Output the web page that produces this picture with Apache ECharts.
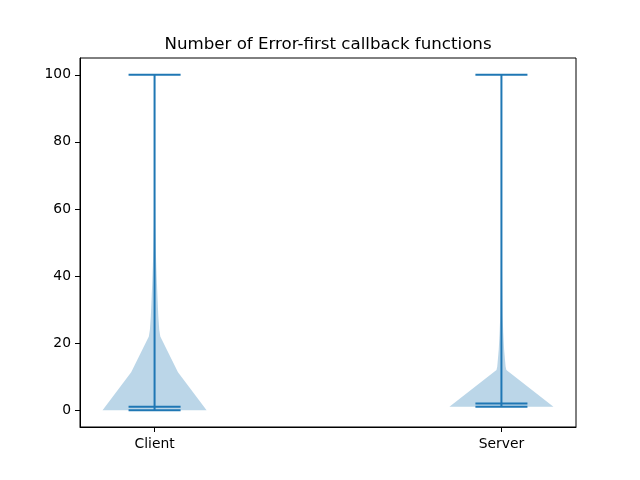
<!DOCTYPE html>
<html><head><meta charset="utf-8">
<script src="https://cdn.jsdelivr.net/npm/echarts@6/dist/echarts.min.js"></script>
<style>html,body{margin:0;padding:0;background:#fff}#c{width:640px;height:480px}</style>
</head><body><div id="c"></div>
<script>
const titleText = 'Number of Error-first callback functions';
const categories = ['Client', 'Server'];
const positions = [1, 2];
const mins = [0, 1];
const medians = [1, 2];
const maxes = [100, 100];
// KDE outline: values (y) and relative density (0..1)
const clientProfileY = [0, 11.3, 22, 24, 28, 33, 38, 43, 48, 55, 65, 80, 100];
const clientProfileD = [1, 0.45, 0.11, 0.09, 0.072, 0.058, 0.045, 0.033, 0.023, 0.014, 0.008, 0.004, 0.002];
const serverProfileY = [1, 12, 13, 18, 23, 28, 33, 40, 50, 65, 80, 100];
const serverProfileD = [1, 0.095, 0.08, 0.052, 0.035, 0.023, 0.018, 0.012, 0.007, 0.004, 0.003, 0.002];
const yTicks = [0, 20, 40, 60, 80, 100];

const profilesY = [clientProfileY, serverProfileY];
const profilesD = [clientProfileD, serverProfileD];
const HALF_W = 0.15, BAR_HALF = 0.075;
const C0 = '#1f77b4';

function renderItem(params, api) {
  const i = api.value(2);
  const p = positions[i];
  const ys = profilesY[i], ds = profilesD[i];
  const pts = [];
  for (let k = 0; k < ys.length; k++) pts.push(api.coord([p - ds[k] * HALF_W, ys[k]]));
  for (let k = ys.length - 1; k >= 0; k--) pts.push(api.coord([p + ds[k] * HALF_W, ys[k]]));
  const children = [{
    type: 'polygon', shape: { points: pts },
    style: { fill: 'rgba(31,119,180,0.3)', stroke: null }
  }];
  const seg = (x1, y1, x2, y2) => {
    const a = api.coord([x1, y1]), b = api.coord([x2, y2]);
    return { type: 'line', shape: { x1: a[0], y1: a[1], x2: b[0], y2: b[1] }, style: { stroke: C0, lineWidth: 2 } };
  };
  children.push(seg(p, mins[i], p, maxes[i]));
  children.push(seg(p - BAR_HALF, mins[i], p + BAR_HALF, mins[i]));
  children.push(seg(p - BAR_HALF, maxes[i], p + BAR_HALF, maxes[i]));
  children.push(seg(p - BAR_HALF, medians[i], p + BAR_HALF, medians[i]));
  return { type: 'group', children };
}

const chart = echarts.init(document.getElementById('c'), null, { renderer: 'canvas' });
const font = 'DejaVu Sans';
chart.setOption({
  animation: false,
  backgroundColor: '#fff',
  title: {
    text: titleText, left: 323, top: 31, textAlign: 'center',
    textStyle: { fontFamily: font, fontSize: 16.67, fontWeight: 'normal', color: '#000' }
  },
  grid: { left: 80, right: 64, top: 58, bottom: 53, show: true, borderColor: '#000', borderWidth: 1, backgroundColor: 'transparent' },
  xAxis: {
    type: 'value', min: 0.785, max: 2.215,
    splitLine: { show: false },
    axisLine: { show: true, onZero: false, lineStyle: { color: '#000', width: 1 } },
    axisTick: { show: true, length: 5, customValues: positions, lineStyle: { color: '#000' } },
    axisLabel: { customValues: positions, formatter: v => categories[positions.indexOf(v)], color: '#000', fontFamily: font, fontSize: 13.89, margin: 10 }
  },
  yAxis: {
    type: 'value', min: -5, max: 105,
    splitLine: { show: false },
    axisLine: { show: true, onZero: false, lineStyle: { color: '#000', width: 1 } },
    axisTick: { show: true, length: 5, customValues: yTicks, lineStyle: { color: '#000' } },
    axisLabel: { customValues: yTicks, color: '#000', fontFamily: font, fontSize: 13.89, margin: 9 }
  },
  series: [{
    type: 'custom', renderItem,
    data: positions.map((p, i) => [p, medians[i], i]),
    encode: { x: 0, y: 1 }
  }]
});
</script></body></html>
